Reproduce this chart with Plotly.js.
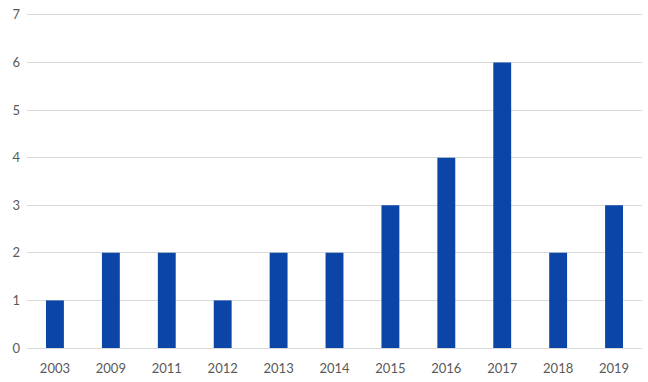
<!DOCTYPE html>
<html>
<head>
<meta charset="utf-8">
<script src="https://cdn.plot.ly/plotly-3.0.1.min.js"></script>
<style>html,body{margin:0;padding:0;background:#fff;}#chart{width:648px;height:382px;}</style>
</head>
<body>
<div id="chart"></div>
<script>
var years = ["2003","2009","2011","2012","2013","2014","2015","2016","2017","2018","2019"];
var counts = [1,2,2,1,2,2,3,4,6,2,3];

var trace = {
  type: "bar",
  x: years,
  y: counts,
  marker: {color: "#0B45A8"},
  hoverinfo: "x+y"
};

var layout = {
  width: 648,
  height: 382,
  margin: {l: 27, r: 6, t: 13, b: 34},
  paper_bgcolor: "#ffffff",
  plot_bgcolor: "#ffffff",
  bargap: 0.68,
  showlegend: false,
  font: {family: "Lato, 'Open Sans', sans-serif", size: 13, color: "#595959"},
  xaxis: {
    type: "category",
    showgrid: false,
    showline: true,
    linecolor: "#D9D9D9",
    linewidth: 1,
    ticks: "",
    ticklen: 0,
    ticklabelstandoff: 8,
    tickfont: {size: 13, color: "#595959"}
  },
  yaxis: {
    range: [0, 7.04],
    tickvals: [0,1,2,3,4,5,6,7],
    showgrid: true,
    gridcolor: "#D9D9D9",
    gridwidth: 1,
    zeroline: false,
    showline: false,
    ticks: "",
    ticklabelstandoff: 6,
    tickfont: {size: 13, color: "#595959"}
  }
};

Plotly.newPlot("chart", [trace], layout, {displayModeBar: false, staticPlot: true});
</script>
</body>
</html>
